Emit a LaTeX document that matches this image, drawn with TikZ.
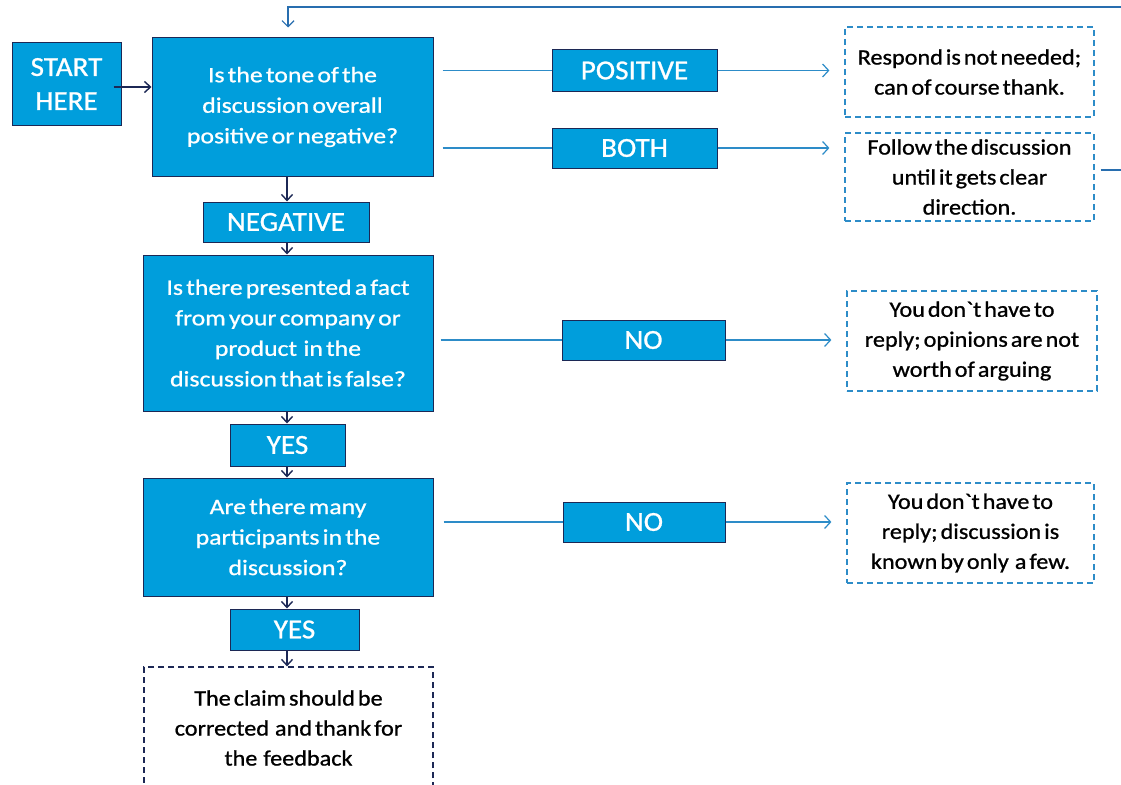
\documentclass[tikz,border=0pt]{standalone}
\usepackage{fontspec}
\setmainfont[FakeStretch=1.06, FakeBold=0.9, WordSpace=0.7]{Carlito}
\newfontfamily\qfont[FakeStretch=1.17, FakeBold=0.9, WordSpace=0.55]{Carlito}
\newfontfamily\bfont[FakeStretch=1.1, FakeBold=0.9, WordSpace=0.55]{Carlito}
\usetikzlibrary{arrows.meta}

\definecolor{boxfill}{RGB}{0,158,220}
\definecolor{navy}{RGB}{28,40,85}
\definecolor{linkblue}{RGB}{45,140,200}
\definecolor{loopblue}{RGB}{40,110,175}

\tikzset{
  bluebox/.style={draw=navy, line width=1pt, fill=boxfill, text=white,
    inner sep=0pt, align=center},
  question/.style={bluebox, font=\qfont\fontsize{22}{30.5}\selectfont},
  answer/.style={bluebox, font=\fontsize{27.5}{34}\selectfont},
  outcome/.style={draw=linkblue, dash pattern=on 6pt off 4pt, line width=1.2pt,
    inner sep=0pt, align=center, text=black,
    font=\bfont\fontsize{22}{30}\selectfont},
  flow/.style={navy, line width=1.4pt, -{Straight Barb[length=6pt,width=11pt]}},
  branch/.style={linkblue, line width=1.2pt},
  branchto/.style={branch, -{Straight Barb[length=6pt,width=13pt]}, shorten >=15pt},
}

\begin{document}
\begin{tikzpicture}[x=1pt, y=-1pt]
\useasboundingbox (0,0) rectangle (1121,784);

% main column
\node[answer, minimum width=109pt, minimum height=82pt] (start) at (66.5,84) {START\\HERE};
\node[question, minimum width=281pt, minimum height=138pt] (q1) at (292.5,107)
  {Is the tone of the\\discussion overall\\positive or negative?};
\node[answer, minimum width=166pt, minimum height=40pt] (neg) at (286,222) {NEGATIVE};
\node[question, minimum width=290pt, minimum height=156pt] (q2) at (288,333)
  {Is there presented a fact\\from your company or\\product\ \ in the\\discussion that is false?};
\node[answer, minimum width=115pt, minimum height=42pt] (yes1) at (287.5,445) {YES};
\node[question, minimum width=290pt, minimum height=118pt] (q3) at (288,537)
  {Are there many\\participants in the\\discussion?};
\node[answer, minimum width=129pt, minimum height=41pt] (yes2) at (294.5,629.5) {YES};
\node[outcome, draw=navy, minimum width=289pt, minimum height=122pt] (final) at (288.5,728)
  {The claim should be\\corrected\ \ and thank for\\the\ \ feedback};

% branch labels
\node[answer, minimum width=165pt, minimum height=41pt] (pos) at (634.5,70.5) {POSITIVE};
\node[answer, minimum width=165pt, minimum height=40pt] (both) at (634.5,148) {BOTH};
\node[answer, minimum width=163pt, minimum height=40pt] (no1) at (643.5,340) {NO};
\node[answer, minimum width=162pt, minimum height=40pt] (no2) at (644,522) {NO};

% outcomes on the right
\node[outcome, minimum width=249pt, minimum height=90pt] (resp) at (969.5,72)
  {Respond is not needed;\\can of course thank.};
\node[outcome, minimum width=249pt, minimum height=88pt] (follow) at (969.5,177)
  {Follow the discussion\\until it gets clear\\direction.};
\node[outcome, minimum width=250pt, minimum height=100pt] (opin) at (972,341)
  {You don`t have to\\reply; opinions are not\\worth of arguing};
\node[outcome, minimum width=247pt, minimum height=100pt] (few) at (970.5,533)
  {You don`t have to\\reply; discussion is\\known by only\ \ a few.};

% vertical flow
\coordinate (spine) at (287,0);
\draw[flow, shorten <=-8pt] ([yshift=-3pt]start.east) -- ([yshift=-3pt]start.east -| q1.west);
\draw[flow] (q1.south -| spine) -- (neg.north -| spine);
\draw[flow] (neg.south -| spine) -- (q2.north -| spine);
\draw[flow] (q2.south -| spine) -- (yes1.north -| spine);
\draw[flow] (yes1.south -| spine) -- (q3.north -| spine);
\draw[flow] (q3.south -| spine) -- (yes2.north -| spine);
\draw[flow] (yes2.south -| spine) -- (final.north -| spine);

% horizontal branches
\draw[branch, shorten <=9pt] (q1.east |- pos.west) -- (pos.west);
\draw[branchto] (pos.east) -- (pos.east -| resp.west);
\draw[branch, shorten <=9pt] (q1.east |- both.west) -- (both.west);
\draw[branchto] (both.east) -- (both.east -| follow.west);
\draw[branch, shorten <=7pt] (q2.east |- no1.west) -- (no1.west);
\draw[branchto] (no1.east) -- (no1.east -| opin.west);
\draw[branch, shorten <=10pt] (q3.east |- no2.west) -- (no2.west);
\draw[branchto] (no2.east) -- (no2.east -| few.west);

% loop back to the first question
\coordinate (loopcorner) at (1124,7);
\draw[loopblue, line width=1.2pt, -{Straight Barb[length=6pt,width=12pt]}, shorten >=10pt]
  ([xshift=6pt,yshift=7pt]follow.east) -| (loopcorner) -| ([xshift=-4.5pt]q1.north);
\end{tikzpicture}
\end{document}
